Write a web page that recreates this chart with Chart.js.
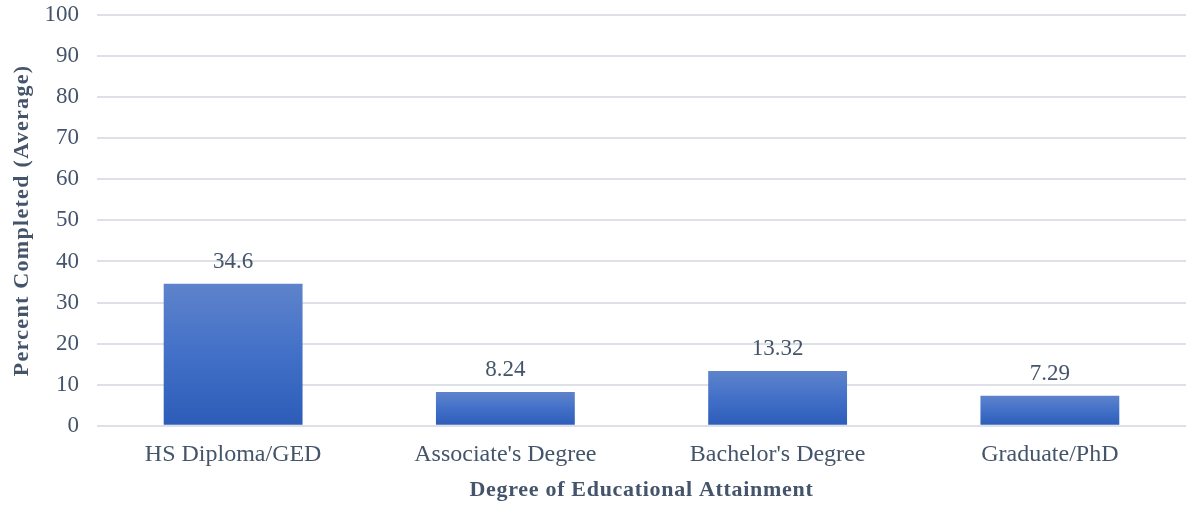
<!DOCTYPE html>
<html>
<head>
<meta charset="utf-8">
<script src="https://cdn.jsdelivr.net/npm/chart.js@4/dist/chart.umd.min.js"></script>
<style>
  html, body { margin: 0; padding: 0; background: #fff; }
  #wrap { width: 1186px; height: 506px; }
</style>
</head>
<body>
<div id="wrap"><canvas id="myChart"></canvas></div>
<script>
// DATA
const categories = ["HS Diploma/GED", "Associate's Degree", "Bachelor's Degree", "Graduate/PhD"];
const values = [34.6, 8.24, 13.32, 7.29];
const valueLabels = ["34.6", "8.24", "13.32", "7.29"];

const textColor = "#44546A";
const fontFamily = "'Liberation Serif', 'Times New Roman', serif";

// axis titles in the original are slightly letter-spaced
const origDrawTitle = Chart.Scale.prototype.drawTitle;
Chart.Scale.prototype.drawTitle = function () {
    const c = this.ctx;
    const prev = c.letterSpacing;
    c.letterSpacing = this.axis === "y" ? "1.3px" : "0.7px";
    origDrawTitle.apply(this, arguments);
    c.letterSpacing = prev || "0px";
};

// gradient for each bar, lighter at top
function barFill(ctx) {
    const chart = ctx.chart;
    const y = chart.scales.y;
    if (!y || ctx.dataIndex === undefined) return "#4472C4";
    const top = y.getPixelForValue(values[ctx.dataIndex]);
    const bottom = y.getPixelForValue(0);
    if (!isFinite(top) || !isFinite(bottom) || top === bottom) return "#4472C4";
    const g = chart.ctx.createLinearGradient(0, top, 0, bottom);
    g.addColorStop(0, "#5E83CB");
    g.addColorStop(0.5, "#4270C8");
    g.addColorStop(1, "#2C5CB8");
    return g;
}

// value labels above bars
const valueLabelPlugin = {
    id: "valueLabels",
    afterDatasetsDraw(chart) {
        const ctx = chart.ctx;
        const meta = chart.getDatasetMeta(0);
        ctx.save();
        ctx.font = "23px " + fontFamily;
        ctx.fillStyle = textColor;
        ctx.textAlign = "center";
        ctx.textBaseline = "alphabetic";
        meta.data.forEach((bar, i) => {
            ctx.fillText(valueLabels[i], bar.x, bar.y - 16);
        });
        ctx.restore();
    },
};

const config = {
    type: "bar",
    data: {
        labels: categories,
        datasets: [
            {
                label: "Percent Completed",
                data: values,
                backgroundColor: barFill,
                barPercentage: 0.51,
                categoryPercentage: 1.0,
            },
        ],
    },
    options: {
        responsive: true,
        maintainAspectRatio: false,
        animation: false,
        layout: {
            padding: { left: 9, right: 0, top: 15, bottom: 2 },
        },
        scales: {
            x: {
                grid: { display: false },
                border: { display: false },
                ticks: {
                    color: textColor,
                    font: { family: fontFamily, size: 24 },
                    padding: 7,
                },
                title: {
                    display: true,
                    text: "Degree of Educational Attainment",
                    color: textColor,
                    font: { family: fontFamily, size: 22, weight: "bold" },
                    padding: { top: 1, bottom: 0 },
                },
            },
            y: {
                min: 0,
                max: 100,
                afterFit(scale) {
                    scale.width = 88;
                    scale.paddingTop = 0;
                    scale.paddingBottom = 0;
                },
                ticks: {
                    stepSize: 10,
                    color: textColor,
                    font: { family: fontFamily, size: 23 },
                    padding: 18,
                },
                grid: {
                    color: "#DDE0E6",
                    lineWidth: 2,
                    drawTicks: false,
                },
                border: { display: false },
                title: {
                    display: true,
                    text: "Percent Completed (Average)",
                    color: textColor,
                    font: { family: fontFamily, size: 22, weight: "bold" },
                    padding: { top: 0, bottom: 0 },
                },
            },
        },
        plugins: {
            legend: { display: false },
            tooltip: { enabled: false },
        },
    },
    plugins: [valueLabelPlugin],
};

const myChart = new Chart(document.getElementById("myChart"), config);
</script>
</body>
</html>
